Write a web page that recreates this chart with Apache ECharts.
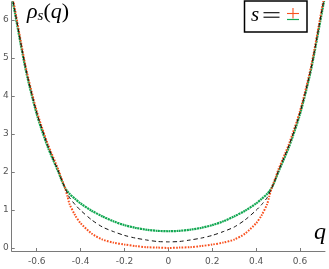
<!DOCTYPE html>
<html><head><meta charset="utf-8">
<script src="https://cdn.jsdelivr.net/npm/echarts@6/dist/echarts.min.js"></script>
<style>html,body{margin:0;padding:0;background:#fff}#c{width:329px;height:269px}</style>
</head><body><div id="c"></div>
<script>
var qValues = [-0.72,-0.7,-0.65,-0.6,-0.55,-0.5,-0.49,-0.48,-0.47,-0.46,-0.45,-0.425,-0.4,-0.35,-0.3,-0.25,-0.2,-0.15,-0.1,-0.05,0,0.05,0.1,0.15,0.2,0.25,0.3,0.35,0.4,0.425,0.45,0.46,0.47,0.48,0.49,0.5,0.55,0.6,0.65,0.7,0.72];
var greenVals = [6.8,6.2,4.68,3.52,2.66,1.98,1.83,1.69,1.57,1.49,1.42,1.29,1.17,0.98,0.83,0.7,0.6,0.53,0.48,0.45,0.44,0.45,0.48,0.53,0.6,0.7,0.83,0.98,1.17,1.29,1.42,1.49,1.57,1.69,1.83,1.98,2.66,3.52,4.68,6.2,6.8];
var blackVals = [6.85,6.25,4.72,3.56,2.7,2.0,1.84,1.7,1.56,1.44,1.32,1.14,0.99,0.74,0.55,0.43,0.33,0.26,0.21,0.17,0.16,0.17,0.21,0.26,0.33,0.43,0.55,0.74,0.99,1.14,1.32,1.44,1.56,1.7,1.84,2.0,2.7,3.56,4.72,6.25,6.85];
var redVals = [6.9,6.3,4.76,3.6,2.74,2.04,1.87,1.72,1.56,1.36,1.15,0.86,0.65,0.38,0.22,0.14,0.09,0.05,0.02,0.01,0.0,0.01,0.02,0.05,0.09,0.14,0.22,0.38,0.65,0.86,1.15,1.36,1.56,1.72,1.87,2.04,2.74,3.6,4.76,6.3,6.9];
var xTicks = [-0.6,-0.4,-0.2,0,0.2,0.4,0.6];
var yTicks = [0,1,2,3,4,5,6];

function pairs(v){ return qValues.map(function(q,i){ return [q, v[i]]; }); }

var chart = echarts.init(document.getElementById('c'), null, {renderer:'canvas'});
var axisCol = '#7a7a7a';
chart.setOption({
  animation:false,
  grid:{left:11,right:4,top:2,bottom:18,containLabel:false},
  xAxis:{type:'value',min:-0.714,max:0.714,
    axisLine:{onZero:false,lineStyle:{color:axisCol,width:1}},
    axisTick:{inside:true,length:3,customValues:xTicks,lineStyle:{color:axisCol}},
    axisLabel:{customValues:xTicks,color:'#555',fontSize:9,fontFamily:'DejaVu Sans',margin:6,
      formatter:function(v){return v===0?'0':v.toFixed(1);}},
    splitLine:{show:false}},
  yAxis:{type:'value',min:-0.08,max:6.47,
    axisLine:{show:true,onZero:false,lineStyle:{color:axisCol,width:1}},
    axisTick:{show:true,inside:true,length:3,customValues:yTicks,lineStyle:{color:axisCol}},
    axisLabel:{customValues:yTicks,color:'#555',fontSize:9,fontFamily:'DejaVu Sans',margin:3,
      formatter:function(v){return String(v);}},
    splitLine:{show:false}},
  series:[
    {type:'line',data:pairs(greenVals),smooth:0.25,symbol:'none',clip:true,z:2,
      lineStyle:{color:'#12a852',width:2.2,type:[2,0.6]}},
    {type:'line',data:pairs(redVals),smooth:0.25,symbol:'none',clip:true,z:3,
      lineStyle:{color:'#f8511f',width:2,type:[1.6,1.3]}},
    {type:'line',data:pairs(blackVals),smooth:0.25,symbol:'none',clip:true,z:4,
      lineStyle:{color:'#111',width:1,type:[4,3]}}
  ],
  graphic:[
    {type:'text',left:27,top:1,style:{rich:{
        a:{fontFamily:'Liberation Serif',fontStyle:'italic',fontSize:22,fill:'#000'},
        s:{fontFamily:'Liberation Serif',fontStyle:'italic',fontSize:15,fill:'#000',padding:[9,0,0,0]},
        b:{fontFamily:'Liberation Serif',fontSize:22,fill:'#000'}},
      text:'{a|ρ}{s|s}{b|(}{a|q}{b|)}'}},
    {type:'rect',shape:{x:244.5,y:1,width:62.5,height:31},style:{fill:'#fff',stroke:'#000',lineWidth:1.5},z:10},
    {type:'text',x:251,y:15,z:11,style:{text:'s',fontFamily:'Liberation Serif',fontStyle:'italic',fontSize:21,fill:'#000',verticalAlign:'middle'}},
    {type:'line',shape:{x1:263.5,y1:12.7,x2:279.5,y2:12.7},style:{stroke:'#000',lineWidth:1.1},z:11},
    {type:'line',shape:{x1:263.5,y1:17.2,x2:279.5,y2:17.2},style:{stroke:'#000',lineWidth:1.1},z:11},
    {type:'line',shape:{x1:293,y1:8,x2:293,y2:18.5},style:{stroke:'#f8511f',lineWidth:1.1},z:11},
    {type:'line',shape:{x1:287,y1:13.5,x2:299,y2:13.5},style:{stroke:'#f8511f',lineWidth:1.1},z:11},
    {type:'line',shape:{x1:287,y1:19.5,x2:299,y2:19.5},style:{stroke:'#12a852',lineWidth:1.2},z:11},
    {type:'text',x:314,y:221,style:{text:'q',fontFamily:'Liberation Serif',fontStyle:'italic',fontSize:24,fill:'#000'}}
  ]
});
</script></body></html>
